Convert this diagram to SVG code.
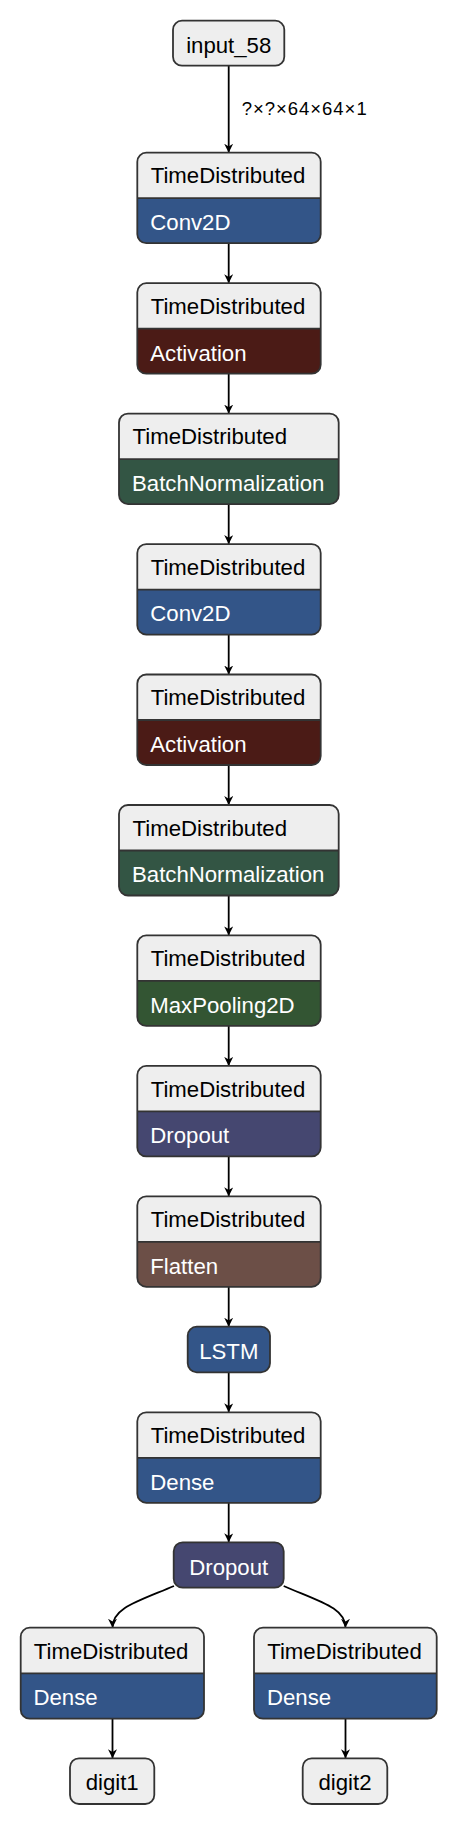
<svg xmlns="http://www.w3.org/2000/svg" width="458" height="1826" viewBox="0 0 458 1826">
<style>
.t{font-family:"Liberation Sans",Arial,sans-serif;font-size:22.2px}
.h{fill:#000}
.w{fill:#fff}
.hd{fill:#eeeeee}
.ol{fill:none;stroke:#333;stroke-width:1.8}
.dv{stroke:#333;stroke-width:1.8}
.e{fill:none;stroke:#000;stroke-width:1.8}
.lbl{font-family:"Liberation Sans",Arial,sans-serif;font-size:18.5px;fill:#000}
</style>
<defs>
<marker id="ar" viewBox="0 0 10 10" refX="10" refY="5" markerWidth="9" markerHeight="9" markerUnits="userSpaceOnUse" orient="auto">
<path d="M0,0 L10,5 L0,10 L3,5 z" fill="#000"/>
</marker>
</defs>
<g id="connectors">
<path class="e" marker-end="url(#ar)" d="M228.7,66 V152.7"/>
<path class="e" marker-end="url(#ar)" d="M228.7,243.2 V283.2"/>
<path class="e" marker-end="url(#ar)" d="M228.7,373.7 V413.6"/>
<path class="e" marker-end="url(#ar)" d="M228.7,504.1 V544.1"/>
<path class="e" marker-end="url(#ar)" d="M228.7,634.6 V674.5"/>
<path class="e" marker-end="url(#ar)" d="M228.7,765 V805"/>
<path class="e" marker-end="url(#ar)" d="M228.7,895.5 V935.4"/>
<path class="e" marker-end="url(#ar)" d="M228.7,1025.9 V1065.9"/>
<path class="e" marker-end="url(#ar)" d="M228.7,1156.4 V1196.3"/>
<path class="e" marker-end="url(#ar)" d="M228.7,1286.8 V1326.7"/>
<path class="e" marker-end="url(#ar)" d="M228.7,1372.3 V1412.3"/>
<path class="e" marker-end="url(#ar)" d="M228.7,1502.8 V1542.3"/>
<path class="e" marker-end="url(#ar)" d="M174,1586 C136,1602 112.5,1608 112.5,1627.7"/>
<path class="e" marker-end="url(#ar)" d="M283.7,1586 C321,1602 345.5,1608 345.5,1627.7"/>
<path class="e" marker-end="url(#ar)" d="M112.5,1718.7 V1758.3"/>
<path class="e" marker-end="url(#ar)" d="M345.5,1718.7 V1758.3"/>
<text class="lbl" x="241.7" y="115" textLength="125" lengthAdjust="spacing">?×?×64×64×1</text>
</g>
<g id="input_58">
<rect class="hd" x="173" y="20.7" width="111.3" height="45" rx="9"/>
<rect class="ol" x="173" y="20.7" width="111.3" height="45" rx="9"/>
<text class="t h" x="228.7" y="53" text-anchor="middle">input_58</text>
</g>
<g id="td_conv2d_1">
<rect class="hd" x="137.3" y="152.7" width="183.4" height="90.5" rx="9"/>
<path fill="#335588" d="M137.3,198.2 H320.7 V234.2 A9,9 0 0 1 311.7,243.2 H146.3 A9,9 0 0 1 137.3,234.2 Z"/>
<line class="dv" x1="137.3" y1="198.2" x2="320.7" y2="198.2"/>
<rect class="ol" x="137.3" y="152.7" width="183.4" height="90.5" rx="9"/>
<text class="t h" x="150.7" y="183.3">TimeDistributed</text>
<text class="t w" x="150.3" y="230">Conv2D</text>
</g>
<g id="td_activation_1">
<rect class="hd" x="137.3" y="283.2" width="183.4" height="90.5" rx="9"/>
<path fill="#4b1b16" d="M137.3,328.7 H320.7 V364.7 A9,9 0 0 1 311.7,373.7 H146.3 A9,9 0 0 1 137.3,364.7 Z"/>
<line class="dv" x1="137.3" y1="328.7" x2="320.7" y2="328.7"/>
<rect class="ol" x="137.3" y="283.2" width="183.4" height="90.5" rx="9"/>
<text class="t h" x="150.7" y="313.8">TimeDistributed</text>
<text class="t w" x="150.3" y="360.5">Activation</text>
</g>
<g id="td_batchnorm_1">
<rect class="hd" x="119" y="413.6" width="219.7" height="90.5" rx="9"/>
<path fill="#335544" d="M119,459.1 H338.7 V495.1 A9,9 0 0 1 329.7,504.1 H128 A9,9 0 0 1 119,495.1 Z"/>
<line class="dv" x1="119" y1="459.1" x2="338.7" y2="459.1"/>
<rect class="ol" x="119" y="413.6" width="219.7" height="90.5" rx="9"/>
<text class="t h" x="132.5" y="444.2">TimeDistributed</text>
<text class="t w" x="132" y="490.9">BatchNormalization</text>
</g>
<g id="td_conv2d_2">
<rect class="hd" x="137.3" y="544.1" width="183.4" height="90.5" rx="9"/>
<path fill="#335588" d="M137.3,589.6 H320.7 V625.6 A9,9 0 0 1 311.7,634.6 H146.3 A9,9 0 0 1 137.3,625.6 Z"/>
<line class="dv" x1="137.3" y1="589.6" x2="320.7" y2="589.6"/>
<rect class="ol" x="137.3" y="544.1" width="183.4" height="90.5" rx="9"/>
<text class="t h" x="150.7" y="574.7">TimeDistributed</text>
<text class="t w" x="150.3" y="621.4">Conv2D</text>
</g>
<g id="td_activation_2">
<rect class="hd" x="137.3" y="674.5" width="183.4" height="90.5" rx="9"/>
<path fill="#4b1b16" d="M137.3,720 H320.7 V756 A9,9 0 0 1 311.7,765 H146.3 A9,9 0 0 1 137.3,756 Z"/>
<line class="dv" x1="137.3" y1="720" x2="320.7" y2="720"/>
<rect class="ol" x="137.3" y="674.5" width="183.4" height="90.5" rx="9"/>
<text class="t h" x="150.7" y="705.1">TimeDistributed</text>
<text class="t w" x="150.3" y="751.8">Activation</text>
</g>
<g id="td_batchnorm_2">
<rect class="hd" x="119" y="805" width="219.7" height="90.5" rx="9"/>
<path fill="#335544" d="M119,850.5 H338.7 V886.5 A9,9 0 0 1 329.7,895.5 H128 A9,9 0 0 1 119,886.5 Z"/>
<line class="dv" x1="119" y1="850.5" x2="338.7" y2="850.5"/>
<rect class="ol" x="119" y="805" width="219.7" height="90.5" rx="9"/>
<text class="t h" x="132.5" y="835.6">TimeDistributed</text>
<text class="t w" x="132" y="882.3">BatchNormalization</text>
</g>
<g id="td_maxpool">
<rect class="hd" x="137.3" y="935.4" width="183.4" height="90.5" rx="9"/>
<path fill="#335533" d="M137.3,980.9 H320.7 V1016.9 A9,9 0 0 1 311.7,1025.9 H146.3 A9,9 0 0 1 137.3,1016.9 Z"/>
<line class="dv" x1="137.3" y1="980.9" x2="320.7" y2="980.9"/>
<rect class="ol" x="137.3" y="935.4" width="183.4" height="90.5" rx="9"/>
<text class="t h" x="150.7" y="966">TimeDistributed</text>
<text class="t w" x="150.3" y="1012.7">MaxPooling2D</text>
</g>
<g id="td_dropout">
<rect class="hd" x="137.3" y="1065.9" width="183.4" height="90.5" rx="9"/>
<path fill="#454770" d="M137.3,1111.4 H320.7 V1147.4 A9,9 0 0 1 311.7,1156.4 H146.3 A9,9 0 0 1 137.3,1147.4 Z"/>
<line class="dv" x1="137.3" y1="1111.4" x2="320.7" y2="1111.4"/>
<rect class="ol" x="137.3" y="1065.9" width="183.4" height="90.5" rx="9"/>
<text class="t h" x="150.7" y="1096.5">TimeDistributed</text>
<text class="t w" x="150.3" y="1143.2">Dropout</text>
</g>
<g id="td_flatten">
<rect class="hd" x="137.3" y="1196.3" width="183.4" height="90.5" rx="9"/>
<path fill="#6c4f47" d="M137.3,1241.8 H320.7 V1277.8 A9,9 0 0 1 311.7,1286.8 H146.3 A9,9 0 0 1 137.3,1277.8 Z"/>
<line class="dv" x1="137.3" y1="1241.8" x2="320.7" y2="1241.8"/>
<rect class="ol" x="137.3" y="1196.3" width="183.4" height="90.5" rx="9"/>
<text class="t h" x="150.7" y="1226.9">TimeDistributed</text>
<text class="t w" x="150.3" y="1273.6">Flatten</text>
</g>
<g id="lstm">
<rect x="187.7" y="1326.7" width="82.3" height="45.6" rx="9" fill="#335588" stroke="#333" stroke-width="1.8"/>
<text class="t w" x="228.8" y="1359" text-anchor="middle">LSTM</text>
</g>
<g id="td_dense">
<rect class="hd" x="137.3" y="1412.3" width="183.4" height="90.5" rx="9"/>
<path fill="#335588" d="M137.3,1457.8 H320.7 V1493.8 A9,9 0 0 1 311.7,1502.8 H146.3 A9,9 0 0 1 137.3,1493.8 Z"/>
<line class="dv" x1="137.3" y1="1457.8" x2="320.7" y2="1457.8"/>
<rect class="ol" x="137.3" y="1412.3" width="183.4" height="90.5" rx="9"/>
<text class="t h" x="150.7" y="1442.9">TimeDistributed</text>
<text class="t w" x="150.3" y="1489.6">Dense</text>
</g>
<g id="dropout">
<rect x="173.7" y="1542.3" width="110" height="45.4" rx="9" fill="#454770" stroke="#333" stroke-width="1.8"/>
<text class="t w" x="228.7" y="1575" text-anchor="middle">Dropout</text>
</g>
<g id="td_dense_digit1">
<rect class="hd" x="20.7" y="1627.7" width="183.3" height="91" rx="9"/>
<path fill="#335588" d="M20.7,1673.3 H204 V1709.7 A9,9 0 0 1 195,1718.7 H29.7 A9,9 0 0 1 20.7,1709.7 Z"/>
<line class="dv" x1="20.7" y1="1673.3" x2="204" y2="1673.3"/>
<rect class="ol" x="20.7" y="1627.7" width="183.3" height="91" rx="9"/>
<text class="t h" x="33.8" y="1658.5">TimeDistributed</text>
<text class="t w" x="33.5" y="1705">Dense</text>
</g>
<g id="td_dense_digit2">
<rect class="hd" x="254" y="1627.7" width="182.7" height="91" rx="9"/>
<path fill="#335588" d="M254,1673.3 H436.7 V1709.7 A9,9 0 0 1 427.7,1718.7 H263 A9,9 0 0 1 254,1709.7 Z"/>
<line class="dv" x1="254" y1="1673.3" x2="436.7" y2="1673.3"/>
<rect class="ol" x="254" y="1627.7" width="182.7" height="91" rx="9"/>
<text class="t h" x="267.2" y="1658.5">TimeDistributed</text>
<text class="t w" x="267" y="1705">Dense</text>
</g>
<g id="digit1">
<rect class="hd" x="70" y="1758.3" width="84.3" height="45.7" rx="9"/>
<rect class="ol" x="70" y="1758.3" width="84.3" height="45.7" rx="9"/>
<text class="t h" x="112.2" y="1790" text-anchor="middle">digit1</text>
</g>
<g id="digit2">
<rect class="hd" x="302.7" y="1758.3" width="84.6" height="45.7" rx="9"/>
<rect class="ol" x="302.7" y="1758.3" width="84.6" height="45.7" rx="9"/>
<text class="t h" x="345" y="1790" text-anchor="middle">digit2</text>
</g>
</svg>
